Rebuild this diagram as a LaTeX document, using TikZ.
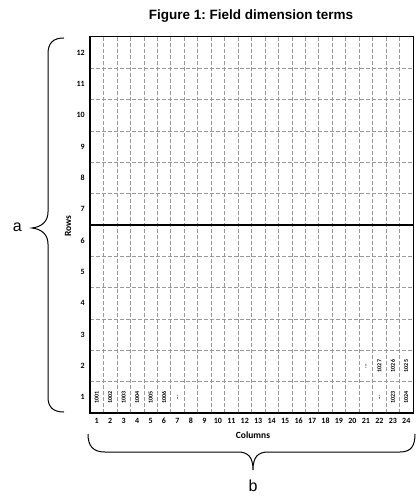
\documentclass[tikz,border=0pt]{standalone}
\usepackage{fontspec}
\setmainfont{Liberation Sans}
\newfontfamily\calfont{Carlito}
\newcommand\mydots{...}
\frenchspacing
\begin{document}
\begin{tikzpicture}[x=1pt,y=-1pt,
  griddash/.style={draw=gray!80,dash pattern=on 4pt off 2pt,line width=0.6pt},
  celltext/.style={rotate=90,font=\calfont\bfseries\fontsize{6}{7}\selectfont,inner sep=0pt},
  axnum/.style={font=\calfont\bfseries\fontsize{8}{9}\selectfont,inner sep=0pt},
  axlabel/.style={font=\calfont\bfseries\fontsize{9.5}{11}\selectfont,inner sep=0pt},
  bracelabel/.style={font=\fontsize{16}{18}\selectfont,inner sep=0pt},
  bracepath/.style={draw=black,line width=1pt}]
\useasboundingbox (0,0) rectangle (417,497);
\def\cw{13.4583}
\def\rh{31.3333}
% grid
\foreach \i in {1,...,23} \draw[griddash] ({90+\i*\cw},37) -- ({90+\i*\cw},413);
\foreach \j in {1,2,3,4,5,7,8,9,10,11} \draw[griddash] (90,{37+\j*\rh}) -- (413,{37+\j*\rh});
\draw[line width=1.3pt] (90,225) -- (413,225);
\draw[line width=1pt] (90,37) rectangle (413,413);
\draw[line width=2pt] (90,36.5) -- (90,413) -- (413.5,413);
% row labels
\foreach \r in {1,...,12} \node[axnum,anchor=east] (r\r) at (85,{413-(\r-0.5)*\rh}) {\r};
% column labels
\foreach \c in {1,...,24} \node[axnum] (c\c) at ({90+(\c-0.5)*\cw},421) {\c};
\node[axlabel,rotate=90] (rows) at (68,226) {Rows};
\node[axlabel] (cols) at (253,435) {Columns};
% cell texts row 1
\foreach \c/\t in {1/1001,2/1002,3/1003,4/1004,5/1005,6/1006,7/\mydots,22/\mydots,23/1023,24/1024}
  \node[celltext] (a\c) at ({90+(\c-0.5)*\cw},{413-0.5*\rh}) {\t};
\foreach \c/\t in {21/\mydots,22/1027,23/1026,24/1025}
  \node[celltext] (b\c) at ({90+(\c-0.5)*\cw},{413-1.5*\rh}) {\t};
% title
\node[font=\bfseries\fontsize{13.5}{16}\selectfont,inner sep=0pt] (title) at (251,16) {Figure 1: Field dimension terms};
% left brace
\coordinate (lt) at (64,38);
\coordinate (lm) at (32,228);
\coordinate (lb) at (64,412);
\draw[bracepath] (lt) .. controls (53,38) and (48,43) .. (48,54) -- (48,212)
  .. controls (48,222) and (41,227) .. (lm)
  .. controls (41,229) and (48,234) .. (48,244) -- (48,397)
  .. controls (48,407) and (53,412) .. (lb);
\node[bracelabel,anchor=east] (a) at (22,227) {a};
% bottom brace
\coordinate (bl) at (88,434);
\coordinate (bm) at (253,470);
\coordinate (br) at (415,434);
\draw[bracepath] (bl) .. controls (88,446) and (93,452) .. (105,452) -- (238,452)
  .. controls (248,452) and (253,457) .. (bm)
  .. controls (253,457) and (258,452) .. (268,452) -- (400,452)
  .. controls (411,452) and (415,446) .. (br);
\node[bracelabel] (b) at (253,486) {b};
\end{tikzpicture}
\end{document}
